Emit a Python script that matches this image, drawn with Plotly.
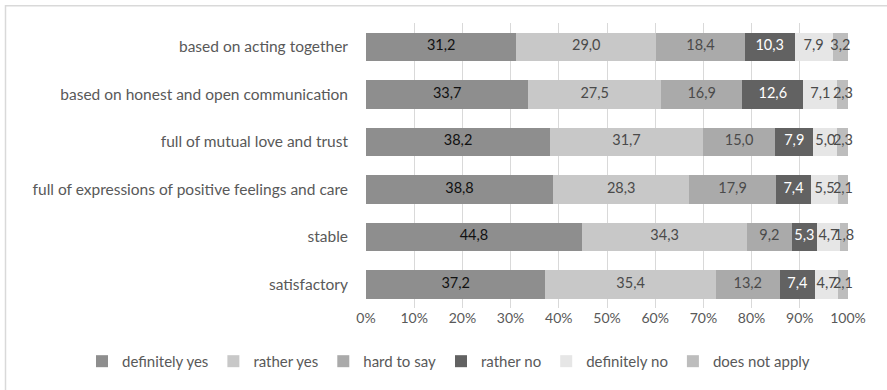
import plotly.graph_objects as go

categories = [
    "based on acting together",
    "based on honest and open communication",
    "full of mutual love and trust",
    "full of expressions of positive feelings and care",
    "stable",
    "satisfactory",
]
series_names = ["definitely yes", "rather yes", "hard to say", "rather no", "definitely no", "does not apply"]
definitely_yes = [31.2, 33.7, 38.2, 38.8, 44.8, 37.2]
rather_yes = [29.0, 27.5, 31.7, 28.3, 34.3, 35.4]
hard_to_say = [18.4, 16.9, 15.0, 17.9, 9.2, 13.2]
rather_no = [10.3, 12.6, 7.9, 7.4, 5.3, 7.4]
definitely_no = [7.9, 7.1, 5.0, 5.5, 4.7, 4.7]
does_not_apply = [3.2, 2.3, 2.3, 2.1, 1.8, 2.1]
x_ticks = [0, 10, 20, 30, 40, 50, 60, 70, 80, 90, 100]

series_values = [definitely_yes, rather_yes, hard_to_say, rather_no, definitely_no, does_not_apply]
colors = ["#8e8e8e", "#c8c8c8", "#aaaaaa", "#626262", "#e6e6e6", "#bdbdbd"]
text_colors = ["#111111", "#4a4a4a", "#4a4a4a", "#ffffff", "#4a4a4a", "#4a4a4a"]

FONT = "Lato"
fig = go.Figure()

for name, vals, col in zip(series_names, series_values, colors):
    fig.add_trace(go.Bar(
        y=categories, x=vals, name=name, orientation="h",
        marker=dict(color=col, line=dict(width=0)),
        hoverinfo="x+name",
    ))

# data labels placed at segment centres through the axis scale
cum = [0.0] * len(categories)
for name, vals, tcol in zip(series_names, series_values, text_colors):
    mids = [c + v / 2 for c, v in zip(cum, vals)]
    cum = [c + v for c, v in zip(cum, vals)]
    fig.add_trace(go.Scatter(
        y=categories, x=mids, mode="text",
        text=[f"{v:.1f}".replace(".", ",") for v in vals],
        textfont=dict(family=FONT, size=14.5, color=tcol),
        textposition="middle center",
        showlegend=False, hoverinfo="skip", cliponaxis=False,
    ))

W, H = 887, 390
ml, mr, mt, mb = 366, 39, 23, 79
pw, ph = W - ml - mr, H - mt - mb

fig.update_layout(
    width=W, height=H,
    margin=dict(l=ml, r=mr, t=mt, b=mb),
    barmode="stack", bargap=0.4,
    paper_bgcolor="white", plot_bgcolor="white",
    font=dict(family=FONT, size=14, color="#595959"),
    showlegend=True,
    legend=dict(
        orientation="h", xref="paper", yref="paper",
        x=(82 - ml) / pw, xanchor="left",
        y=(H - mb - 365) / ph, yanchor="middle",
        font=dict(family=FONT, size=15, color="#595959"),
        itemwidth=30, traceorder="normal",
    ),
    xaxis=dict(
        range=[0, 100], tickvals=x_ticks,
        ticktext=[f"{t}%" for t in x_ticks],
        showgrid=True, gridcolor="#d9d9d9", gridwidth=1,
        zeroline=False, showline=False, ticks="",
        tickfont=dict(family=FONT, size=14, color="#595959"),
        fixedrange=True,
    ),
    yaxis=dict(
        autorange="reversed", showgrid=False, zeroline=False,
        showline=False, ticks="", ticklabelstandoff=17,
        tickfont=dict(family=FONT, size=15.5, color="#595959"),
        fixedrange=True,
    ),
    shapes=[dict(
        type="rect", xref="paper", yref="paper",
        x0=(5.5 - ml) / pw, x1=(W + 20 - ml) / pw,
        y0=-(mb + 20) / ph, y1=(ph + mt - 5.5) / ph,
        line=dict(color="#d9d9d9", width=1.5), layer="below",
    )],
)

fig.write_html("out.html")
